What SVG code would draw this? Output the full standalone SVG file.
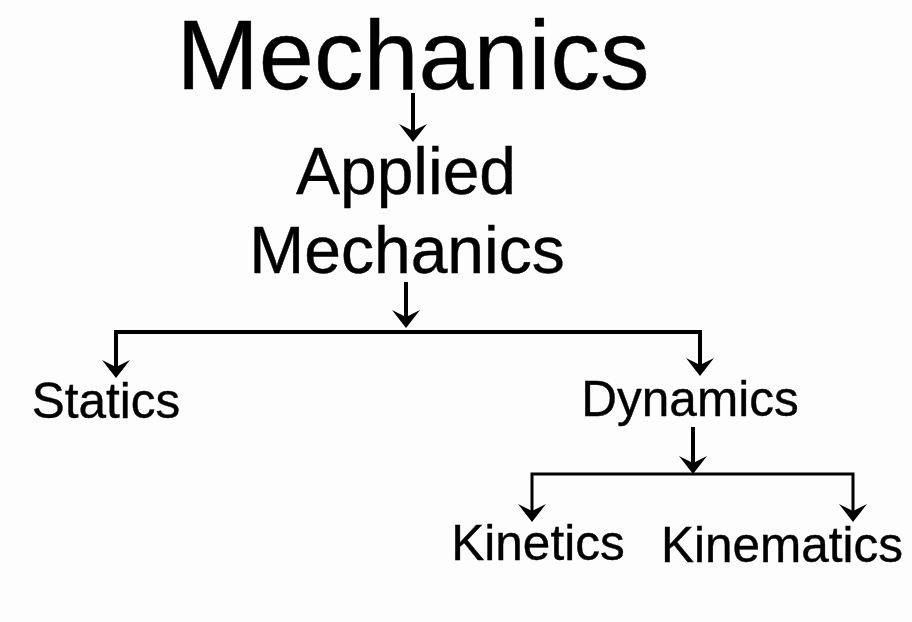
<svg xmlns="http://www.w3.org/2000/svg" xmlns:xlink="http://www.w3.org/1999/xlink" width="912" height="622" viewBox="0 0 912 622">
<style>
text{font-family:"Liberation Sans",Arial,sans-serif;fill:#000;text-anchor:middle;stroke:#000;stroke-width:0.4}
.c line,.c polyline{stroke:#000;stroke-width:4;fill:none}
.c .thin{stroke-width:3}
</style>
<defs>
<path id="ah" d="M0,0 L-14,-18 L0,-11 L14,-18 Z" fill="#000"/>
</defs>
<rect width="912" height="622" fill="#fdfdfd"/>
<g id="mechanics"><text x="413" y="89" font-size="99">Mechanics</text></g>
<g id="applied"><text x="406" y="194" font-size="66">Applied</text><text x="407" y="273" font-size="66">Mechanics</text></g>
<g id="statics"><text x="106" y="418" font-size="49.5">Statics</text></g>
<g id="dynamics"><text x="690" y="416" font-size="49.5">Dynamics</text></g>
<g id="kinetics"><text x="538" y="560" font-size="49.5">Kinetics</text></g>
<g id="kinematics"><text x="782" y="562" font-size="49.5">Kinematics</text></g>
<g class="c" id="connectors">
<line x1="413" y1="93" x2="413" y2="132"/><use xlink:href="#ah" x="413" y="142"/>
<line x1="406" y1="282" x2="406" y2="318"/><use xlink:href="#ah" x="406" y="328"/>
<polyline points="116,368 116,332 700,332 700,366"/>
<use xlink:href="#ah" x="116" y="378"/><use xlink:href="#ah" x="700" y="376"/>
<line x1="693" y1="427" x2="693" y2="464"/><use xlink:href="#ah" x="693" y="474"/>
<polyline class="thin" points="532,512 532,474 853,474 853,512"/>
<use xlink:href="#ah" x="532" y="522"/><use xlink:href="#ah" x="853" y="522"/>
</g>
</svg>
